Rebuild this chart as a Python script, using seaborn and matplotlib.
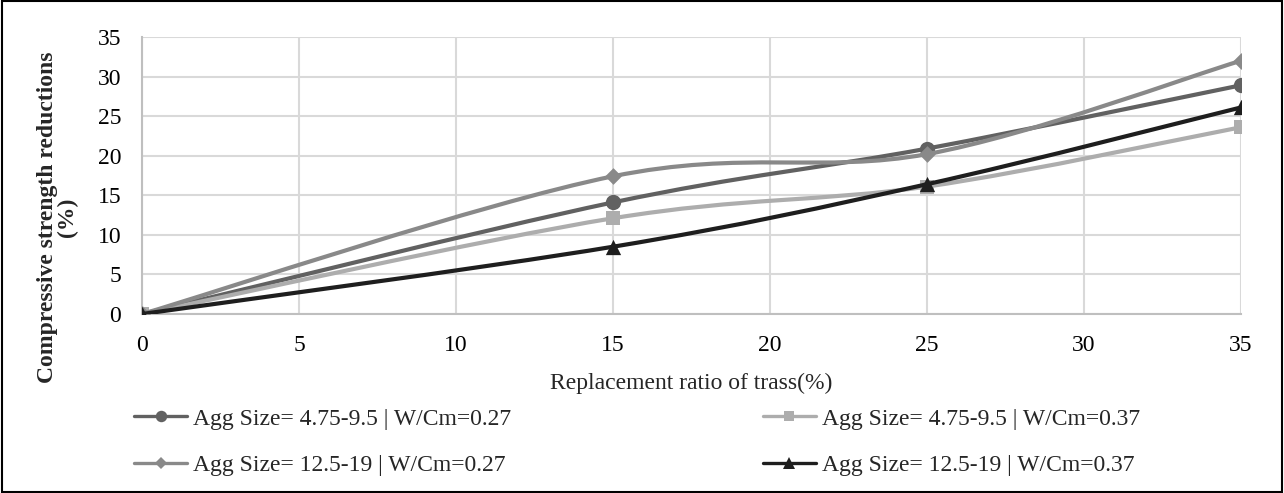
import numpy as np
import pandas as pd
import matplotlib
matplotlib.use("Agg")
import matplotlib.pyplot as plt
import seaborn as sns
from matplotlib.path import Path
from matplotlib.patches import PathPatch, Rectangle
from matplotlib.lines import Line2D

# ---- data ----
replacement = [0, 15, 25, 35]
series_names = [
    "Agg Size= 4.75-9.5 | W/Cm=0.27",
    "Agg Size= 4.75-9.5 | W/Cm=0.37",
    "Agg Size= 12.5-19 | W/Cm=0.27",
    "Agg Size= 12.5-19 | W/Cm=0.37",
]
s1 = [0, 14.1, 20.9, 28.9]
s2 = [0, 12.1, 16.1, 23.6]
s3 = [0, 17.4, 20.2, 32.0]
s4 = [0, 8.5, 16.4, 26.1]
x_ticks = [0, 5, 10, 15, 20, 25, 30, 35]
y_ticks = [0, 5, 10, 15, 20, 25, 30, 35]

colors = ["#616161", "#ADADAD", "#898989", "#1E1E1E"]
markers = ["o", "s", "D", "^"]
msizes = [11, 10, 8.5, 11]
FS = 17

sns.set_theme(style="white")
plt.rcParams["font.family"] = ["Liberation Serif", "DejaVu Serif"]

fig = plt.figure(figsize=(12.84, 4.93), dpi=100)
ax = fig.add_axes([142 / 1284, 1 - 314 / 493, (1241 - 142) / 1284, (314 - 37) / 493])

def smooth_path(xs, ys):
    pts = np.column_stack([xs, ys]).astype(float)
    n = len(pts)
    verts = [pts[0]]
    codes = [Path.MOVETO]
    for i in range(n - 1):
        p0 = pts[i - 1] if i > 0 else pts[i]
        p1 = pts[i]
        p2 = pts[i + 1]
        p3 = pts[i + 2] if i + 2 < n else pts[i + 1]
        c1 = p1 + (p2 - p0) / 6.0
        c2 = p2 - (p3 - p1) / 6.0
        verts += [c1, c2, p2]
        codes += [Path.CURVE4] * 3
    return Path(verts, codes)

all_series = [s1, s2, s3, s4]
rows = []
for name, vals in zip(series_names, all_series):
    for xv, yv in zip(replacement, vals):
        rows.append({"x": xv, "y": yv, "series": name})
df = pd.DataFrame(rows)

for k, (name, vals) in enumerate(zip(series_names, all_series)):
    patch = PathPatch(smooth_path(replacement, vals), facecolor="none",
                      edgecolor=colors[k], lw=3.0, zorder=3 + k, capstyle="round")
    ax.add_patch(patch)
    sub = df[df["series"] == name]
    sns.scatterplot(data=sub, x="x", y="y", ax=ax, color=colors[k], marker=markers[k],
                    s=msizes[k] ** 2, edgecolor=colors[k], linewidth=0, zorder=3.5 + k,
                    legend=False)

ax.set_xlim(0, 35)
ax.set_ylim(0, 35)
ax.set_xticks(x_ticks)
ax.set_yticks(y_ticks)
ax.grid(True, color="#D9D9D9", lw=1.5)
ax.set_axisbelow(True)
for side in ["top", "right"]:
    ax.spines[side].set_visible(False)
for side in ["left", "bottom"]:
    ax.spines[side].set_color("#BFBFBF")
    ax.spines[side].set_linewidth(1.5)
ax.tick_params(axis="both", labelsize=FS, colors="black", length=0)
ax.tick_params(axis="x", pad=15)
ax.tick_params(axis="y", pad=15)
ax.set_xlabel("Replacement ratio of trass(%)", fontsize=FS, labelpad=12)
ax.set_ylabel("Compressive strength reductions\n(%)", fontsize=FS,
              fontweight="bold", linespacing=0.95)
ax.yaxis.set_label_coords(-0.058, 0.35)

order = [0, 2, 1, 3]
handles = [Line2D([0], [0], color=colors[k], lw=2.4, marker=markers[k],
                  markersize=msizes[k] * 0.75, markeredgewidth=0) for k in order]
labels = [series_names[k] for k in order]
fig.legend(handles, labels, loc="upper left", bbox_to_anchor=(134 / 1284, 1 - 408 / 493),
           ncol=2, frameon=False, fontsize=FS, handlelength=2.25, handletextpad=0.25,
           columnspacing=10.65, labelspacing=1.05, borderpad=0, borderaxespad=0)

fig.add_artist(Rectangle((0.0015, 0.003), 0.997, 0.994, transform=fig.transFigure,
                         fill=False, edgecolor="black", lw=1.5))

fig.savefig("out.png", dpi=100, facecolor="white")
